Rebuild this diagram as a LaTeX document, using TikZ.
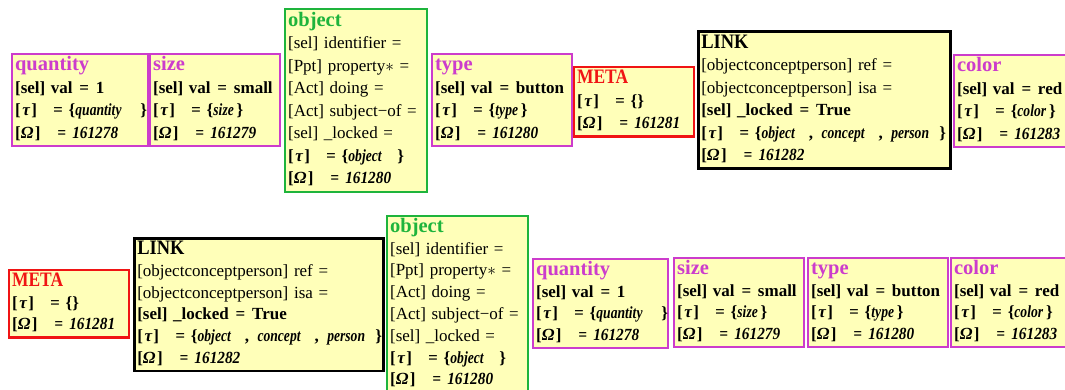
\documentclass[tikz,border=0pt]{standalone}
\usepackage{fontspec}
\setmainfont{Liberation Serif}
\usepackage{graphicx}
\definecolor{mag}{RGB}{204,60,204}
\definecolor{grn}{RGB}{30,180,60}
\definecolor{boxfill}{RGB}{255,255,185}
\definecolor{redb}{RGB}{240,20,20}
\newcommand\ttl{\fontsize{20.5}{22}\selectfont\bfseries}
\newcommand\cw[1]{\scalebox{0.8}[1]{\textit{#1}}}
\newcommand\eqs{\hspace{0.4em}=\hspace{0.4em}}
\newcommand\tauline[1]{\textbf{[\hspace{0.1em}\textit{τ}\hspace{0.05em}]\hspace{0.95em}\textit{=}\hspace{0.35em}\{#1\}}}
\newcommand\omline[1]{\textbf{[\textit{Ω}\hspace{0.08em}]\hspace{1em}\scalebox{0.9}[1]{\textit{=\hspace{0.4em}#1}}}}
\tikzset{
  bx/.style n args={3}{draw=#1, fill=boxfill, line width=2.2pt, rectangle,
    anchor=north west, inner xsep=3pt, inner ysep=1pt,
    text width=#2pt-6pt, minimum width=#2pt, minimum height=#3pt,
    align=left, font=\fontsize{17}{22.5}\selectfont},
  rowb/.style={font=\fontsize{17}{21.8}\selectfont}
}
\begin{document}
\begin{tikzpicture}[x=1pt,y=-1pt]
\fill[white] (0,0) rectangle (1065,390);
\useasboundingbox (0,0) rectangle (1065,390);
% ---------- top row ----------
\node[bx={mag}{136}{92}] (qA) at (11,53) {\begin{tabular}{@{}l@{}}
\textcolor{mag}{\ttl quantity}\\
\textbf{[sel] val\eqs 1}\\
\tauline{\cw{quantity}\hspace{1.1em}}\\
\omline{161278}
\end{tabular}};
\node[bx={mag}{130}{92}] (sA) at (149,53) {\begin{tabular}{@{}l@{}}
\textcolor{mag}{\ttl size}\\
\textbf{[sel] val\eqs small}\\
\tauline{\cw{size}\,}\\
\omline{161279}
\end{tabular}};
\node[bx={grn}{142}{183}] (oA) at (284,8) {\begin{tabular}{@{}l@{}}
\textcolor{grn}{\ttl object}\\
{}[sel] identifier =\\
{}[Ppt] property$\ast$ =\\
{}[Act] doing =\\
{}[Act] subject−of =\\
{}[sel] \_locked =\\
\tauline{\cw{object}\hspace{0.9em}}\\
\omline{161280}
\end{tabular}};
\node[bx={mag}{140}{91}] (tA) at (431,53) {\begin{tabular}{@{}l@{}}
\textcolor{mag}{\ttl type}\\
\textbf{[sel] val\eqs button}\\
\tauline{\cw{type}\,}\\
\omline{161280}
\end{tabular}};
\node[bx={redb}{120}{67}] (mA) at (573,66) {\begin{tabular}{@{}l@{}}
\textcolor{redb}{\ttl\scalebox{0.85}[1]{META}}\\
\textbf{[\hspace{0.1em}\textit{τ}\hspace{0.05em}]\hspace{0.95em}\textit{=}\hspace{0.35em}\{\}}\\
\omline{161281}
\end{tabular}};
\node[bx={black}{252}{136}, line width=2.6pt] (lA) at (697,30) {\begin{tabular}{@{}l@{}}
{\ttl\scalebox{0.9}[1]{LINK}}\\
{}[objectconceptperson] ref =\\
{}[objectconceptperson] isa =\\
\textbf{[sel] \_locked\eqs True}\\
\tauline{\cw{object}\hspace{0.8em},\hspace{0.5em}\cw{concept}\hspace{0.8em},\hspace{0.5em}\cw{person}\hspace{0.6em}}\\
\omline{161282}
\end{tabular}};
\node[bx={mag}{130}{91}] (cA) at (953,54) {\begin{tabular}{@{}l@{}}
\textcolor{mag}{\ttl color}\\
\textbf{[sel] val\eqs red}\\
\tauline{\cw{color}\,}\\
\omline{161283}
\end{tabular}};
% ---------- bottom row ----------
\node[bx={redb}{120}{65}, rowb] (mB) at (8,269) {\begin{tabular}{@{}l@{}}
\textcolor{redb}{\ttl\scalebox{0.85}[1]{META}}\\
\textbf{[\hspace{0.1em}\textit{τ}\hspace{0.05em}]\hspace{0.95em}\textit{=}\hspace{0.35em}\{\}}\\
\omline{161281}
\end{tabular}};
\node[bx={black}{249}{129}, line width=2.6pt, rowb] (lB) at (133,237) {\begin{tabular}{@{}l@{}}
{\ttl\scalebox{0.9}[1]{LINK}}\\
{}[objectconceptperson] ref =\\
{}[objectconceptperson] isa =\\
\textbf{[sel] \_locked\eqs True}\\
\tauline{\cw{object}\hspace{0.8em},\hspace{0.5em}\cw{concept}\hspace{0.8em},\hspace{0.5em}\cw{person}\hspace{0.6em}}\\
\omline{161282}
\end{tabular}};
\node[bx={grn}{141}{174}, rowb] (oB) at (386,215) {\begin{tabular}{@{}l@{}}
\textcolor{grn}{\ttl object}\\
{}[sel] identifier =\\
{}[Ppt] property$\ast$ =\\
{}[Act] doing =\\
{}[Act] subject−of =\\
{}[sel] \_locked =\\
\tauline{\cw{object}\hspace{0.9em}}\\
\omline{161280}
\end{tabular}};
\node[bx={mag}{135}{88}, rowb] (qB) at (532,258) {\begin{tabular}{@{}l@{}}
\textcolor{mag}{\ttl quantity}\\
\textbf{[sel] val\eqs 1}\\
\tauline{\cw{quantity}\hspace{1.1em}}\\
\omline{161278}
\end{tabular}};
\node[bx={mag}{130}{87}, rowb] (sB) at (673,257) {\begin{tabular}{@{}l@{}}
\textcolor{mag}{\ttl size}\\
\textbf{[sel] val\eqs small}\\
\tauline{\cw{size}\,}\\
\omline{161279}
\end{tabular}};
\node[bx={mag}{140}{87}, rowb] (tB) at (807,257) {\begin{tabular}{@{}l@{}}
\textcolor{mag}{\ttl type}\\
\textbf{[sel] val\eqs button}\\
\tauline{\cw{type}\,}\\
\omline{161280}
\end{tabular}};
\node[bx={mag}{130}{87}, rowb] (cB) at (950,257) {\begin{tabular}{@{}l@{}}
\textcolor{mag}{\ttl color}\\
\textbf{[sel] val\eqs red}\\
\tauline{\cw{color}\,}\\
\omline{161283}
\end{tabular}};
\end{tikzpicture}
\end{document}
